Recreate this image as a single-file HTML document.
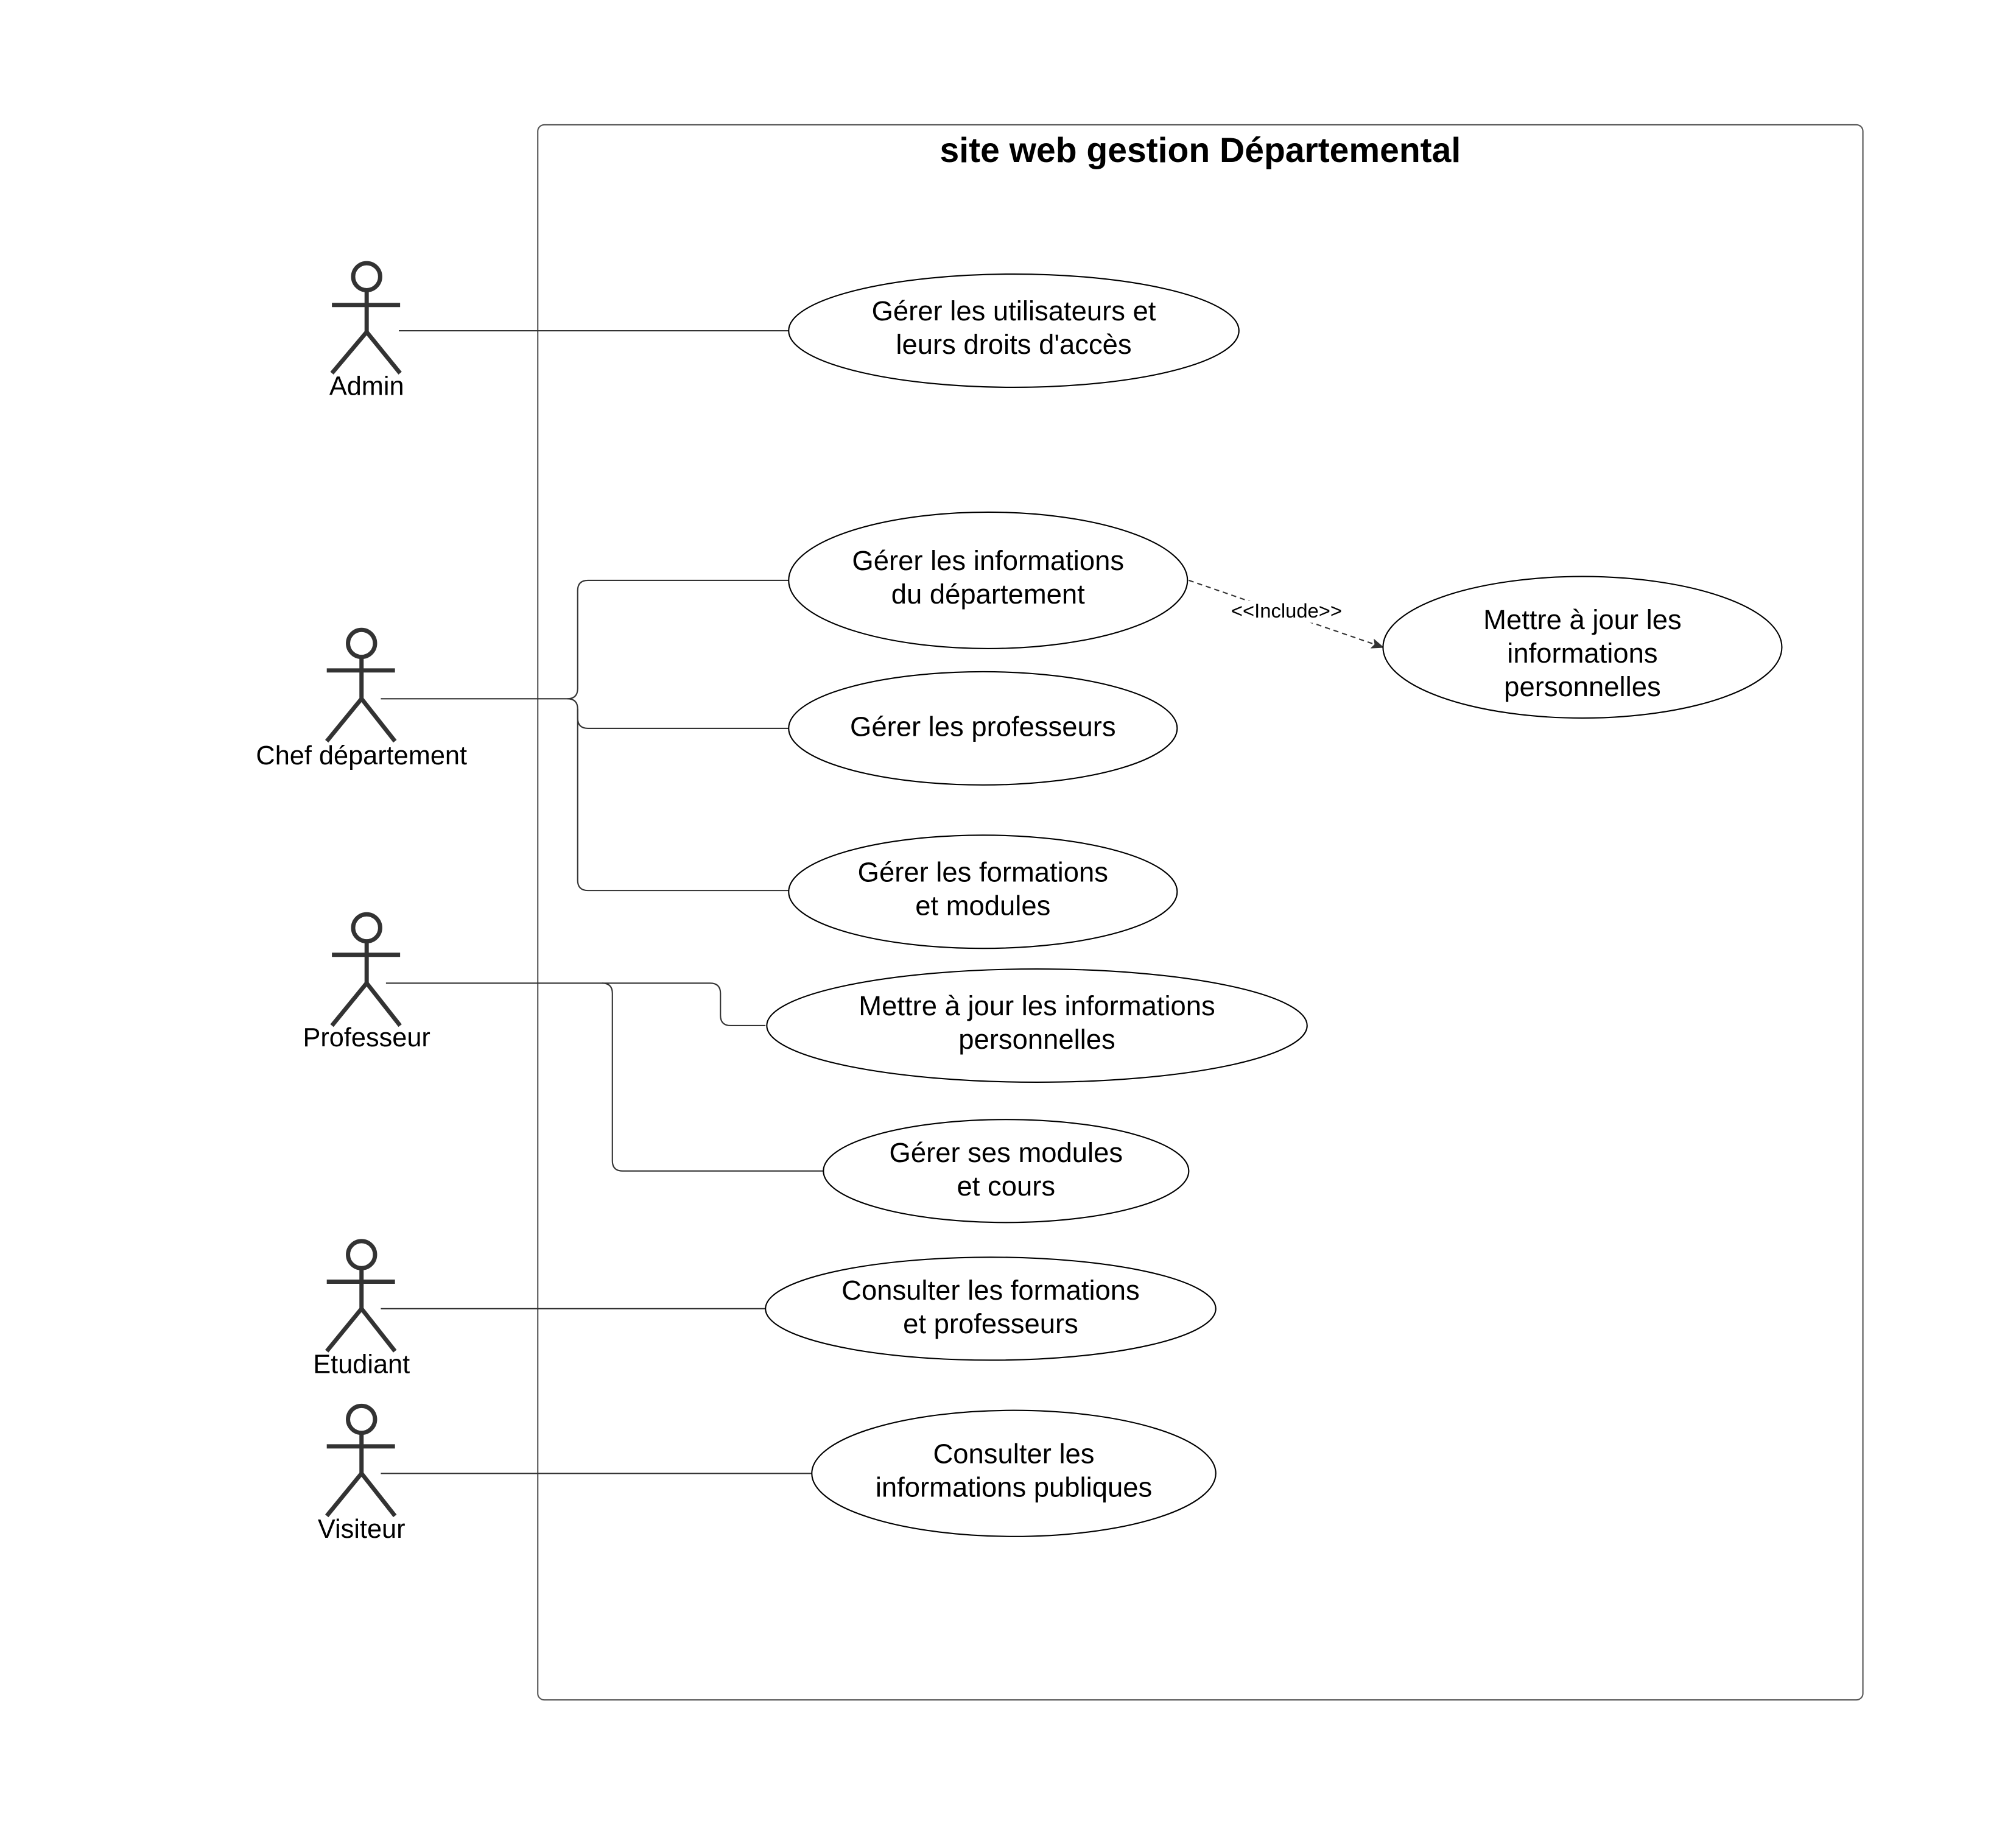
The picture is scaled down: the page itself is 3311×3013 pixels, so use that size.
<!DOCTYPE html>
<html><head><meta charset="utf-8"><style>
html,body{margin:0;padding:0;background:#fff;}
svg{display:block;}
text{font-family:"Liberation Sans",sans-serif;fill:#000;}
</style></head><body>
<svg width="3311" height="3013" viewBox="0 0 1567 1426" preserveAspectRatio="none" xmlns="http://www.w3.org/2000/svg">
<defs><marker id="ah" markerWidth="10" markerHeight="8" refX="9" refY="4" orient="auto" markerUnits="userSpaceOnUse"><path d="M0,0 L10,4 L0,8 L2,4 Z" fill="#333"/></marker></defs>
<rect x="418" y="97" width="1030" height="1224" rx="5" fill="none" stroke="#555" stroke-width="1"/>
<text x="933" y="126" font-size="27" font-weight="bold" text-anchor="middle">site web gestion Départemental</text>

<g fill="none" stroke="#333" stroke-width="3.3">
<circle cx="285" cy="215" r="10.5"/><path d="M285 225.5V258M258 237H311M285 258L258 290M285 258L311 290"/>
<circle cx="281" cy="500" r="10.5"/><path d="M281 510.5V543M254 521H307M281 543L254 576M281 543L307 576"/>
<circle cx="285" cy="721" r="10.5"/><path d="M285 731.5V764M258 742H311M285 764L258 797M285 764L311 797"/>
<circle cx="281" cy="975" r="10.5"/><path d="M281 985.5V1017M254 996H307M281 1017L254 1050M281 1017L307 1050"/>
<circle cx="281" cy="1103" r="10.5"/><path d="M281 1113.5V1145M254 1124H307M281 1145L254 1178M281 1145L307 1178"/>
</g>
<g font-size="20.5" text-anchor="middle">
<text x="285" y="307">Admin</text>
<text x="281" y="594">Chef département</text>
<text x="285" y="813">Professeur</text>
<text x="281" y="1067">Etudiant</text>
<text x="281" y="1195">Visiteur</text>
</g>

<g fill="none" stroke="#333" stroke-width="1">
<path d="M310 257H613"/>
<path d="M296 543H441Q449 543 449 535V459Q449 451 457 451H613"/>
<path d="M441 543Q449 543 449 551V558Q449 566 457 566H613"/>
<path d="M449 551V684Q449 692 457 692H613"/>
<path d="M300 764H552Q560 764 560 772V789Q560 797 568 797H595"/>
<path d="M468 764Q476 764 476 772V902Q476 910 484 910H640"/>
<path d="M296 1017H595"/>
<path d="M296 1145H631"/>
</g>
<path d="M924 451L1075 503" stroke="#333" stroke-width="1" stroke-dasharray="4,3" fill="none" marker-end="url(#ah)"/>
<rect x="953" y="467" width="94" height="17" fill="#fff"/>
<text x="1000" y="480" font-size="15.5" text-anchor="middle">&lt;&lt;Include&gt;&gt;</text>

<g fill="#fff" stroke="#000" stroke-width="1">
<ellipse cx="788" cy="257" rx="175" ry="44"/>
<ellipse cx="768" cy="451" rx="155" ry="53"/>
<ellipse cx="764" cy="566" rx="151" ry="44"/>
<ellipse cx="764" cy="693" rx="151" ry="44"/>
<ellipse cx="1230" cy="503" rx="155" ry="55"/>
<ellipse cx="806" cy="797" rx="210" ry="44"/>
<ellipse cx="782" cy="910" rx="142" ry="40"/>
<ellipse cx="770" cy="1017" rx="175" ry="40"/>
<ellipse cx="788" cy="1145" rx="157" ry="49"/>
</g>
<g font-size="21.5" text-anchor="middle">
<text x="788" y="249">Gérer les utilisateurs et</text><text x="788" y="275">leurs droits d'accès</text>
<text x="768" y="443">Gérer les informations</text><text x="768" y="469">du département</text>
<text x="764" y="572">Gérer les professeurs</text>
<text x="764" y="685">Gérer les formations</text><text x="764" y="711">et modules</text>
<text x="1230" y="489">Mettre à jour les</text><text x="1230" y="515">informations</text><text x="1230" y="541">personnelles</text>
<text x="806" y="789">Mettre à jour les informations</text><text x="806" y="815">personnelles</text>
<text x="782" y="903">Gérer ses modules</text><text x="782" y="929">et cours</text>
<text x="770" y="1010">Consulter les formations</text><text x="770" y="1036">et professeurs</text>
<text x="788" y="1137">Consulter les</text><text x="788" y="1163">informations publiques</text>
</g>
</svg>
</body></html>
